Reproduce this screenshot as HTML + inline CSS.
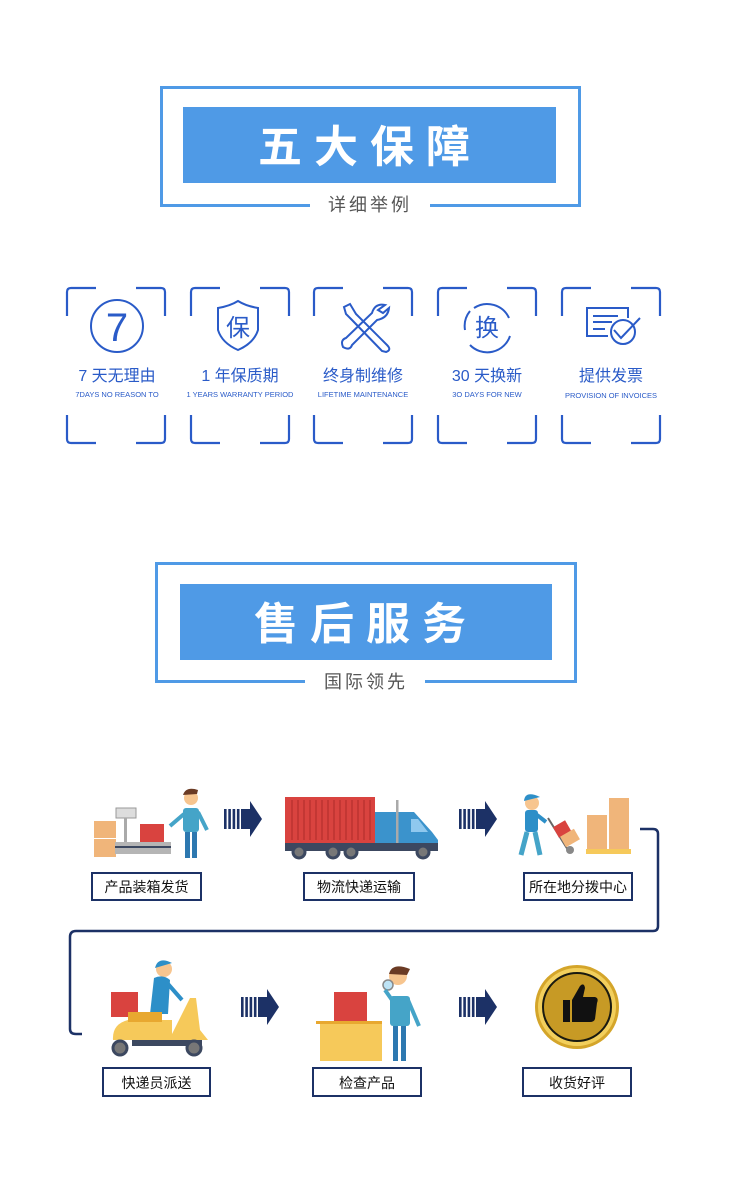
<!DOCTYPE html>
<html><head><meta charset="utf-8"><style>
html,body{margin:0;padding:0;background:#fff;}
svg{display:block;}
text{font-family:"Liberation Sans","Noto Sans CJK SC",sans-serif;}
</style></head><body>
<svg width="750" height="1198" viewBox="0 0 750 1198" xmlns="http://www.w3.org/2000/svg">
<defs>
<g id="arr"><rect x="0" y="8" width="2.6" height="20" fill="#1c3166"/><rect x="4.3" y="8" width="2.6" height="20" fill="#1c3166"/><rect x="8.6" y="8" width="2.6" height="20" fill="#1c3166"/><rect x="12.9" y="8" width="2.6" height="20" fill="#1c3166"/><path d="M17,8 H26 V0 L38,18 L26,36 V28 H17 Z" fill="#1c3166"/></g>
<g id="br" fill="none" stroke="#2a5bc8" stroke-width="2.2">
<path d="M1,29 V5 Q1,1 5,1 H30"/><path d="M70,1 H95 Q99,1 99,5 V29"/><path d="M1,128 V152 Q1,156 5,156 H30"/><path d="M70,156 H95 Q99,156 99,152 V128"/>
</g>
</defs>

<!-- Header 1 -->
<rect x="161.5" y="87.5" width="418" height="118" fill="none" stroke="#4f9ae6" stroke-width="3"/>
<rect x="183" y="107" width="373" height="76" fill="#4f9ae6"/>
<text x="370" y="162" text-anchor="middle" font-size="44" font-weight="bold" fill="#fff" letter-spacing="12">五大保障</text>
<rect x="310" y="198" width="120" height="12" fill="#fff"/>
<text x="370" y="211" text-anchor="middle" font-size="18" fill="#555" letter-spacing="3">详细举例</text>

<!-- Cards -->
<g transform="translate(66,287)"><use href="#br"/></g>
<g transform="translate(190,287)"><use href="#br"/></g>
<g transform="translate(313,287)"><use href="#br"/></g>
<g transform="translate(437,287)"><use href="#br"/></g>
<g transform="translate(561,287)"><use href="#br"/></g>

<circle cx="117" cy="326" r="26" fill="none" stroke="#2a5bc8" stroke-width="2"/>
<text x="117" y="341" text-anchor="middle" font-size="40" fill="#2a5bc8">7</text>
<path d="M218,308 Q230,306 238,301 Q246,306 258,308 V330 Q254,343 238,350 Q222,343 218,330 Z" fill="none" stroke="#2a5bc8" stroke-width="2"/>
<text x="238" y="336" text-anchor="middle" font-size="24" fill="#2a5bc8">保</text>
<g fill="none" stroke="#2a5bc8" stroke-width="2">
<path d="M344,307 L350,304 L356,314 L387,345 Q392,350 386,352 L382,351 L352,320 L346,314 Z"/>
<path d="M385,305 Q375,303 372,313 L346,338 Q340,340 343,347 Q350,351 352,345 L377,320 Q388,318 389,308 L383,313 L378,310 Z"/>
</g>
<path d="M474,308 A24,24 0 0 1 509,318 M510,336 A24,24 0 0 1 470,345 M465,330 A24,24 0 0 1 470,311" fill="none" stroke="#2a5bc8" stroke-width="2"/>
<text x="487" y="336" text-anchor="middle" font-size="24" fill="#2a5bc8">换</text>
<g fill="none" stroke="#2a5bc8" stroke-width="2">
<path d="M628,318 V308 H587 V336 H608"/>
<path d="M593,316 H618 M593,322 H612 M593,329 H605"/>
<circle cx="623" cy="332" r="12"/><path d="M614,330 L621,338 L640,318"/>
</g>

<g font-size="16" fill="#2a5bc8" text-anchor="middle">
<text x="117" y="381">7 天无理由</text>
<text x="240" y="381">1 年保质期</text>
<text x="363" y="381">终身制维修</text>
<text x="487" y="381">30 天换新</text>
<text x="611" y="381">提供发票</text>
</g>
<g font-size="7.5" fill="#2a5bc8" text-anchor="middle">
<text x="117" y="397">7DAYS NO REASON TO</text>
<text x="240" y="397">1 YEARS WARRANTY PERIOD</text>
<text x="363" y="397">LIFETIME MAINTENANCE</text>
<text x="487" y="397">3O DAYS FOR NEW</text>
<text x="611" y="398">PROVISION OF INVOICES</text>
</g>

<!-- Header 2 -->
<rect x="156.5" y="563.5" width="419" height="118" fill="none" stroke="#4f9ae6" stroke-width="3"/>
<rect x="180" y="584" width="372" height="76" fill="#4f9ae6"/>
<text x="366" y="639" text-anchor="middle" font-size="44" font-weight="bold" fill="#fff" letter-spacing="12">售后服务</text>
<rect x="305" y="675" width="120" height="12" fill="#fff"/>
<text x="366" y="688" text-anchor="middle" font-size="18" fill="#555" letter-spacing="3">国际领先</text>

<!-- connector -->
<path d="M640,829 H653 Q658,829 658,834 V926 Q658,931 653,931 H76 Q70,931 70,937 V1029 Q70,1034 76,1034 H82" fill="none" stroke="#1c3166" stroke-width="2.5"/>

<!-- arrows -->
<use href="#arr" x="224" y="801"/>
<use href="#arr" x="459" y="801"/>
<use href="#arr" x="241" y="989"/>
<use href="#arr" x="459" y="989"/>

<!-- illus 1 -->
<rect x="94" y="821" width="22" height="17" fill="#f0b57a"/><rect x="94" y="839" width="22" height="18" fill="#f0b57a"/>
<rect x="116" y="808" width="20" height="10" fill="#ddd" stroke="#999"/>
<rect x="124" y="818" width="3" height="24" fill="#aaa"/>
<rect x="140" y="824" width="24" height="18" fill="#d9433f"/>
<rect x="115" y="842" width="56" height="12" fill="#b5b5b5"/><rect x="115" y="846" width="56" height="2" fill="#3c4860"/>
<circle cx="191" cy="798" r="7" fill="#f7c58f"/><path d="M183,795 Q186,786 198,790 L197,794 Z" fill="#6b3b24"/>
<rect x="183" y="808" width="16" height="24" rx="3" fill="#45a4c8"/><rect x="185" y="832" width="5" height="26" fill="#2d78b0"/><rect x="192" y="832" width="5" height="26" fill="#2d78b0"/>
<path d="M184,814 L170,826" stroke="#45a4c8" stroke-width="4"/><path d="M198,812 L207,830" stroke="#45a4c8" stroke-width="4"/>

<!-- truck -->
<rect x="285" y="797" width="90" height="46" fill="#d9433f"/>
<g stroke="#b5302d" stroke-width="1.2"><path d="M292,800V840M298,800V840M304,800V840M310,800V840M316,800V840M322,800V840M328,800V840M334,800V840M340,800V840M346,800V840M352,800V840M358,800V840M364,800V840M370,800V840"/></g>
<path d="M375,812 H414 L432,832 L438,840 V851 H375 Z" fill="#3b93cc"/>
<path d="M411,819 H418 L428,832 H411 Z" fill="#8fc8ee"/>
<rect x="396" y="800" width="2.5" height="46" fill="#aaa"/>
<rect x="285" y="843" width="153" height="8" fill="#3c4860"/>
<g fill="#777" stroke="#3c4860" stroke-width="3"><circle cx="299" cy="852" r="6"/><circle cx="333" cy="852" r="6"/><circle cx="351" cy="852" r="6"/><circle cx="423" cy="852" r="6"/></g>

<!-- illus 3 -->
<circle cx="532" cy="803" r="7" fill="#f7c58f"/><path d="M524,801 Q525,790 540,797 Z" fill="#2d8fc8"/>
<rect x="525" y="810" width="13" height="22" rx="3" fill="#2d8fc8"/><path d="M527,832 L521,855 M535,832 L540,855" stroke="#45a4c8" stroke-width="5"/>
<path d="M537,815 L546,822" stroke="#2d8fc8" stroke-width="4"/>
<path d="M548,818 L568,850" stroke="#666" stroke-width="2"/><circle cx="570" cy="850" r="4" fill="#888"/>
<rect x="555" y="823" width="14" height="12" fill="#d9433f" transform="rotate(-30 562 829)"/>
<rect x="562" y="832" width="16" height="12" fill="#f0b57a" transform="rotate(-30 570 838)"/>
<rect x="587" y="815" width="20" height="17" fill="#f0b57a"/><rect x="587" y="832" width="20" height="17" fill="#f0b57a"/>
<rect x="609" y="798" width="20" height="17" fill="#f0b57a"/><rect x="609" y="815" width="20" height="17" fill="#f0b57a"/><rect x="609" y="832" width="20" height="17" fill="#f0b57a"/>
<rect x="586" y="849" width="45" height="5" fill="#f6c95a"/>

<!-- scooter -->
<rect x="111" y="992" width="27" height="25" fill="#d9433f"/>
<circle cx="164" cy="969" r="8" fill="#f7c58f"/><path d="M155,968 Q158,956 172,963 Z" fill="#2d8fc8"/>
<path d="M154,978 Q163,974 170,980 L168,1014 H150 Z" fill="#2d8fc8"/>
<path d="M168,984 L182,1000" stroke="#2d8fc8" stroke-width="4"/>
<path d="M113,1040 Q112,1024 128,1020 H172 V1040 Z" fill="#f6c95a"/>
<path d="M172,1034 L190,998 H196 L200,1030 L208,1040 H172Z" fill="#f6c95a"/>
<rect x="128" y="1012" width="34" height="10" fill="#e8a830"/>
<rect x="132" y="1040" width="70" height="6" fill="#3c4860"/>
<g fill="#777" stroke="#3c4860" stroke-width="3"><circle cx="120" cy="1048" r="7"/><circle cx="194" cy="1048" r="7"/></g>

<!-- inspect -->
<rect x="334" y="992" width="33" height="29" fill="#d9433f"/>
<rect x="316" y="1021" width="66" height="3" fill="#e8a830"/>
<rect x="320" y="1024" width="62" height="37" fill="#f6c95a"/>
<circle cx="398" cy="976" r="9" fill="#f7c58f"/><path d="M389,974 Q392,962 410,969 L407,975 Z" fill="#6b3b24"/>
<circle cx="388" cy="985" r="5" fill="#bde3f5" stroke="#888" stroke-width="1.5"/>
<rect x="390" y="996" width="20" height="30" rx="3" fill="#45a4c8"/>
<path d="M408,1000 L419,1026" stroke="#45a4c8" stroke-width="4"/><path d="M392,1000 L385,990" stroke="#45a4c8" stroke-width="4"/>
<rect x="393" y="1026" width="5" height="35" fill="#2d78b0"/><rect x="401" y="1026" width="5" height="35" fill="#2d78b0"/>

<!-- coin -->
<circle cx="577" cy="1007" r="42" fill="#d4a52a"/>
<circle cx="577" cy="1007" r="37" fill="#1a1a10" stroke="#f2cf5c" stroke-width="4"/>
<circle cx="577" cy="1007" r="33" fill="#c79a25"/>
<path d="M563,1000 H570 V1022 H563 Z M572,1000 L580,986 Q584,982 585,988 L583,997 H595 Q599,998 597,1003 L595,1019 Q594,1022 590,1022 H572 Z" fill="#111"/>

<!-- labels -->
<g fill="#fff" stroke="#1c3166" stroke-width="2">
<rect x="92" y="873" width="109" height="27"/>
<rect x="304" y="873" width="110" height="27"/>
<rect x="524" y="873" width="108" height="27"/>
<rect x="103" y="1068" width="107" height="28"/>
<rect x="313" y="1068" width="108" height="28"/>
<rect x="523" y="1068" width="108" height="28"/>
</g>
<g font-size="14" fill="#111" text-anchor="middle">
<text x="146.5" y="892">产品装箱发货</text>
<text x="359" y="892">物流快递运输</text>
<text x="578" y="892">所在地分拨中心</text>
<text x="156.5" y="1088">快递员派送</text>
<text x="367" y="1088">检查产品</text>
<text x="577" y="1088">收货好评</text>
</g>
</svg>
</body></html>
